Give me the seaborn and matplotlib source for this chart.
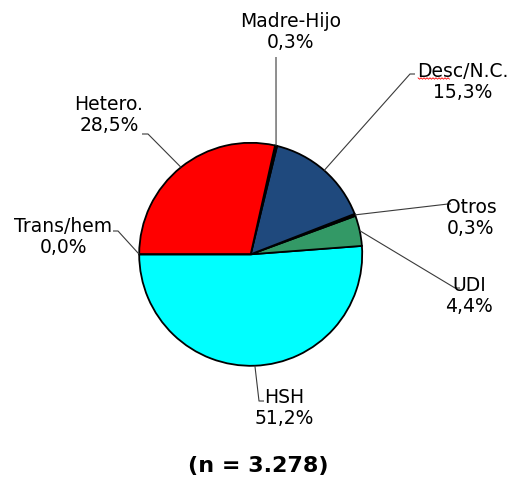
import numpy as np
import matplotlib
matplotlib.use("Agg")
import matplotlib.pyplot as plt
import seaborn as sns

# slices, counter-clockwise starting at 9 o'clock
categories = ["HSH", "UDI", "Otros", "Desc/N.C.", "Madre-Hijo", "Hetero.", "Trans/hem"]
shares = [51.2, 4.4, 0.3, 15.3, 0.3, 28.5, 0.0]
slice_colors = ["#00FFFF", "#339966", "#000000", "#1F497D", "#000000", "#FF0000", "#000000"]
total_n = "3.278"

W, H = 512, 489

# label placement in pixel coords (y down): text centre, elbow of leader, end of leader
label_pos = {
    "HSH":        ((284, 408), (259, 402), (264, 402)),
    "UDI":        ((469, 296), (455, 289), (460, 289)),
    "Otros":      ((471, 218), (448, 205), (451, 205)),
    "Desc/N.C.":  ((463, 82),  (410, 75),  (415, 75)),
    "Madre-Hijo": ((291, 32),  (276, 58),  (276, 58)),
    "Hetero.":    ((109, 115), (148, 135), (142, 135)),
    "Trans/hem":  ((63, 237),  (118, 232), (113, 232)),
}

sns.set_theme(style="white")
plt.rcParams["font.family"] = ["DejaVu Sans"]

fig = plt.figure(figsize=(W / 100, H / 100), dpi=100)
ax = fig.add_axes([0, 0, 1, 1])

cx, cy, R = 250.7, 255.3, 111.5
palette = sns.color_palette(slice_colors)
wedges, _ = ax.pie(shares, colors=palette, startangle=180, counterclock=True,
                   center=(cx, H - cy), radius=R,
                   wedgeprops=dict(edgecolor="black", linewidth=1.3))


def fmt_pct(v):
    return f"{v:.1f}%".replace(".", ",")


for w, cat, val in zip(wedges, categories, shares):
    (tx, ty), (ex, ey), (lx, ly) = label_pos[cat]
    mid = np.deg2rad((w.theta1 + w.theta2) / 2)
    px = cx + R * np.cos(mid)
    py = (H - cy) + R * np.sin(mid)
    ax.plot([px, ex, lx], [py, H - ey, H - ly], color="#3a3a3a", lw=0.8,
            solid_capstyle="butt", zorder=1)
    ax.text(tx, H - ty, f"{cat}\n{fmt_pct(val)}", ha="center", va="center",
            fontsize=13.5, color="black", linespacing=1.15)

# spell-check squiggle under "Desc"
sq_x = np.arange(418, 451, 1.5)
sq_y = H - 79.5 + np.where(np.arange(len(sq_x)) % 2 == 0, 0.7, -0.7)
ax.plot(sq_x, sq_y, color="red", lw=0.6)

ax.text(258, H - 466, f"(n = {total_n})", ha="center", va="center",
        fontsize=16, fontweight="bold", color="black")

ax.set_xlim(0, W)
ax.set_ylim(0, H)
ax.set_aspect("equal")
ax.axis("off")
fig.savefig("out.png", dpi=100, facecolor="white")
